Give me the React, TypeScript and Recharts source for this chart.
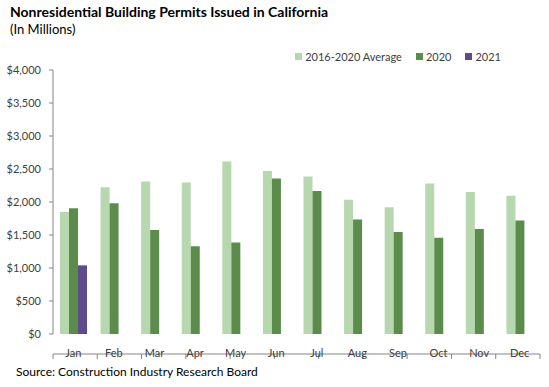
import { Bar, BarChart, Legend, XAxis, YAxis } from "recharts";

const months = ["Jan", "Feb", "Mar", "Apr", "May", "Jun", "Jul", "Aug", "Sep", "Oct", "Nov", "Dec"];
const avg2016to2020 = [1850, 2225, 2310, 2295, 2615, 2470, 2385, 2035, 1920, 2280, 2150, 2095];
const y2020 = [1905, 1980, 1575, 1330, 1385, 2355, 2165, 1735, 1545, 1460, 1590, 1720];
const y2021 = [1040, null, null, null, null, null, null, null, null, null, null, null];
const yTicks = [0, 500, 1000, 1500, 2000, 2500, 3000, 3500, 4000];
const edgeTicks = [0, 1, 2, 3, 4, 5, 6, 7, 8, 9, 10, 11, 12];

const data = months.map((m, i) => ({
  month: m,
  avg: avg2016to2020[i],
  y2020: y2020[i],
  y2021: y2021[i],
}));

const font = "Lato, 'Open Sans', sans-serif";
const axisGray = "#868686";
const textGray = "#404040";

const legendItems = [
  { label: "2016-2020 Average", color: "#b7d7af" },
  { label: "2020", color: "#5b8c4b" },
  { label: "2021", color: "#604a8b" },
];

const LegendBox = () => (
  <div style={{ display: "flex", gap: 14, fontFamily: font, fontSize: 11, color: textGray }}>
    {legendItems.map((it) => (
      <div key={it.label} style={{ display: "flex", alignItems: "center", gap: 3 }}>
        <span style={{ width: 7, height: 7, background: it.color, display: "inline-block" }} />
        <span>{it.label}</span>
      </div>
    ))}
  </div>
);

const fmt = (v: number) => "$" + v.toLocaleString("en-US");

const App = () => {
  return (
    <div style={{ position: "absolute", left: 0, top: 0, width: 549, height: 387, background: "#fff" }}>
      <div style={{ position: "absolute", left: 10, top: 3, fontFamily: font, fontWeight: 700, fontSize: 14, color: "#000" }}>
        Nonresidential Building Permits Issued in California
      </div>
      <div style={{ position: "absolute", left: 10, top: 21, fontFamily: font, fontSize: 13, color: "#000" }}>
        (In Millions)
      </div>
      <BarChart
        width={549}
        height={387}
        data={data}
        margin={{ top: 57, right: 9, left: 0, bottom: 32 }}
        barSize={9}
        barGap={0}
      >
        <XAxis
          xAxisId="edges"
          type="number"
          domain={[0, 12]}
          ticks={edgeTicks}
          height={1}
          stroke={axisGray}
          tickSize={5}
          tickFormatter={() => ""}
          allowDataOverflow
        />
        <XAxis
          dataKey="month"
          axisLine={false}
          tickLine={false}
          height={20}
          tickMargin={9}
          tick={{ fontFamily: font, fontSize: 11, fill: textGray }}
        />
        <YAxis
          width={53}
          domain={[0, 4000]}
          ticks={yTicks}
          tickFormatter={fmt}
          stroke={axisGray}
          tickSize={4}
          tickMargin={8}
          tick={{ fontFamily: font, fontSize: 11, fill: textGray }}
        />
        <Legend verticalAlign="top" align="right" wrapperStyle={{ top: 50, right: 48, width: "auto" }} content={LegendBox} />
        <Bar dataKey="avg" name="2016-2020 Average" fill="#b7d7af" isAnimationActive={false} />
        <Bar dataKey="y2020" name="2020" fill="#5b8c4b" isAnimationActive={false} />
        <Bar dataKey="y2021" name="2021" fill="#604a8b" isAnimationActive={false} />
      </BarChart>
      <div style={{ position: "absolute", left: 16, top: 364, fontFamily: font, fontSize: 12, color: "#000" }}>
        Source: Construction Industry Research Board
      </div>
    </div>
  );
};

export default App;
